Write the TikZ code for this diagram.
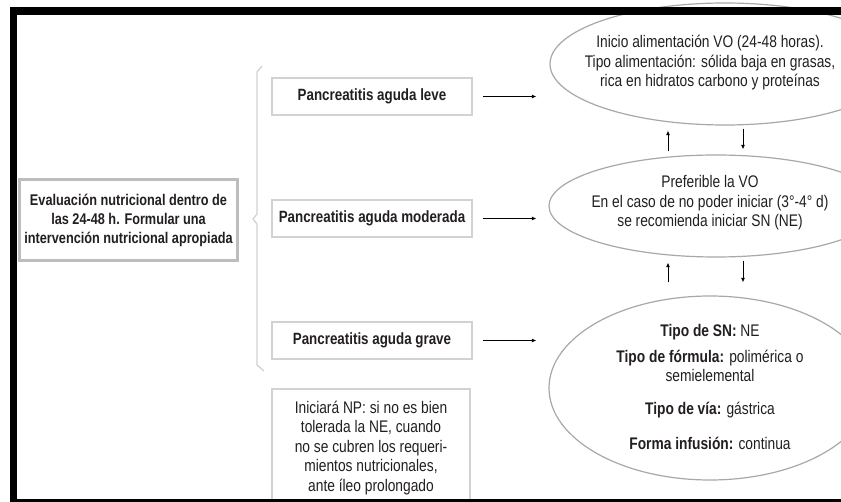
\documentclass[tikz,border=0pt]{standalone}
\usepackage{fontspec}
\setmainfont{Liberation Sans}[FakeStretch=0.82]
\usetikzlibrary{shapes.geometric,arrows.meta,calc}
\definecolor{txt}{HTML}{231F20}
\definecolor{ellgray}{HTML}{A8A8A8}
\definecolor{boxgray}{HTML}{D2D2D2}
\definecolor{lboxgray}{HTML}{BDBDBD}
\tikzset{
  ellbox/.style={ellipse, draw=ellgray, line width=1.2pt, inner sep=0pt},
  etext/.style={align=center, text=txt, inner sep=0pt, font=\fontsize{16.8}{19.5}\selectfont},
  pbox/.style={rectangle, draw=boxgray, line width=1.2pt, minimum width=200pt, minimum height=37pt, inner sep=0pt, text=txt, font=\fontsize{16.3}{19}\selectfont\bfseries},
  lbox/.style={rectangle, draw=lboxgray, line width=3pt, minimum width=218pt, minimum height=81pt, inner sep=0pt, align=center, text=txt, font=\fontsize{15.5}{19}\selectfont\bfseries},
  npbox/.style={rectangle, draw=boxgray, line width=1.2pt, minimum width=198pt, minimum height=118pt, inner sep=0pt, align=center, text=txt, font=\fontsize{16.8}{19.5}\selectfont},
  arr/.style={draw=black, line width=1pt, -{Latex[length=4.5pt,width=4pt]}},
  brace/.style={draw=boxgray, line width=1.3pt}
}
\begin{document}
\begin{tikzpicture}[x=1pt,y=-1pt]
\useasboundingbox (0,0) rectangle (841,502);
\clip (0,0) rectangle (841,502);
\fill[white] (0,0) rectangle (841,502);

% ellipses
\node[ellbox, minimum width=350pt, minimum height=122pt] (topell) at (725,64) {};
\node[etext] (toptext) at (710,63) {Inicio alimentación VO (24-48 horas).\\Tipo alimentación: sólida baja en grasas,\\rica en hidratos carbono y proteínas};

\node[ellbox, minimum width=334pt, minimum height=102pt] (midell) at (716,206) {};
\node[etext] (midtext) at (710,203) {Preferible la VO\\En el caso de no poder iniciar (3°-4° d)\\se recomienda iniciar SN (NE)};

\node[ellbox, minimum width=322pt, minimum height=184pt] (botell) at (710,388) {};
\node[etext] (bottext) at (710,387) {\textbf{Tipo de SN:} NE\\[6.5pt]\textbf{Tipo de fórmula:} polimérica o\\semielemental\\[13.5pt]\textbf{Tipo de vía:} gástrica\\[15.5pt]\textbf{Forma infusión:} continua};

% boxes
\node[lbox] (eval) at (128.5,220) {Evaluación nutricional dentro de\\las 24-48 h. Formular una\\intervención nutricional apropiada};
\node[pbox] (leve) at (372,96.5) {Pancreatitis aguda leve};
\node[pbox] (mod) at (372,218.5) {Pancreatitis aguda moderada};
\node[pbox] (grave) at (372,340.5) {Pancreatitis aguda grave};
\node[npbox] (np) at (371,448) {Iniciará NP: si no es bien\\tolerada la NE, cuando\\no se cubren los requeri-\\mientos nutricionales,\\ante íleo prolongado};

% bracket
\draw[brace] (262,66) -- (257,72) -- (257,214) -- (253,219) -- (257,224) -- (257,365) -- (264,371);

% horizontal arrows
\draw[arr, shorten <=10pt, shorten >=13pt] (leve.east) -- (leve.east -| topell.west);
\draw[arr, shorten <=10pt, shorten >=12pt] (mod.east) -- (mod.east -| midell.west);
\draw[arr, shorten <=10pt, shorten >=12pt] (grave.east) -- (grave.east -| botell.west);

% vertical arrows
\coordinate (ux) at (668,0);
\coordinate (dx) at (743,0);
\draw[arr, shorten <=3pt, shorten >=5pt] (ux |- midell.north) -- (ux |- topell.south);
\draw[arr, shorten <=3pt, shorten >=5pt] (dx |- topell.south) -- (dx |- midell.north);
\draw[arr, shorten <=13pt, shorten >=5pt] (ux |- botell.north) -- (ux |- midell.south);
\draw[arr, shorten <=3pt, shorten >=13pt] (dx |- midell.south) -- (dx |- botell.north);

% black frame
\fill[black] (10,7) rectangle (841,15);
\fill[black] (10,7) rectangle (17,502);
\fill[black] (10,499) rectangle (841,502);
\end{tikzpicture}
\end{document}
